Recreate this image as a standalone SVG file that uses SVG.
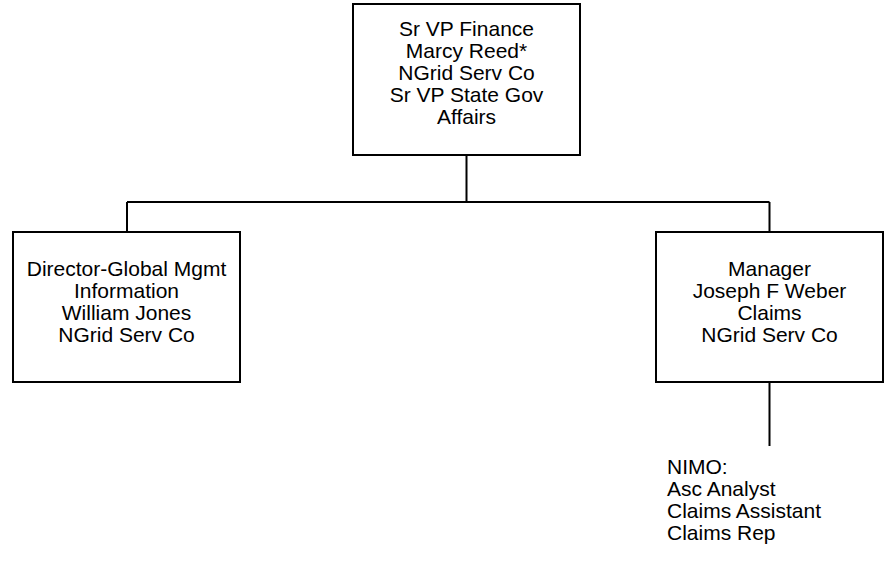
<svg xmlns="http://www.w3.org/2000/svg" width="888" height="564" viewBox="0 0 888 564">
<style>
.box{fill:#fff;stroke:#000;stroke-width:2}
.t{font-family:"Liberation Sans",Arial,sans-serif;font-size:21px;fill:#000;text-anchor:middle}
.tl{font-family:"Liberation Sans",Arial,sans-serif;font-size:21px;fill:#000}
.c{fill:none;stroke:#000;stroke-width:2}
</style>
<rect width="888" height="564" fill="#fff"/>
<g id="connectors">
<path class="c" d="M466.5,155V202M127,202H769.5M127,202V232M769.5,202V232M769.5,382V446"/>
</g>
<g id="n_top">
<rect class="box" x="353" y="4" width="227" height="151"/>
<text class="t" x="466.5" y="36">Sr VP Finance</text>
<text class="t" x="466.5" y="58">Marcy Reed*</text>
<text class="t" x="466.5" y="80">NGrid Serv Co</text>
<text class="t" x="466.5" y="102">Sr VP State Gov</text>
<text class="t" x="466.5" y="124">Affairs</text>
</g>
<g id="n_left">
<rect class="box" x="13" y="232" width="227" height="150"/>
<text class="t" x="126.5" y="276">Director-Global Mgmt</text>
<text class="t" x="126.5" y="298">Information</text>
<text class="t" x="126.5" y="320">William Jones</text>
<text class="t" x="126.5" y="342">NGrid Serv Co</text>
</g>
<g id="n_right">
<rect class="box" x="656" y="232" width="227" height="150"/>
<text class="t" x="769.5" y="276">Manager</text>
<text class="t" x="769.5" y="298">Joseph F Weber</text>
<text class="t" x="769.5" y="320">Claims</text>
<text class="t" x="769.5" y="342">NGrid Serv Co</text>
</g>
<g id="n_nimo">
<text class="tl" x="667" y="474">NIMO:</text>
<text class="tl" x="667" y="496">Asc Analyst</text>
<text class="tl" x="667" y="518">Claims Assistant</text>
<text class="tl" x="667" y="540">Claims Rep</text>
</g>
</svg>
